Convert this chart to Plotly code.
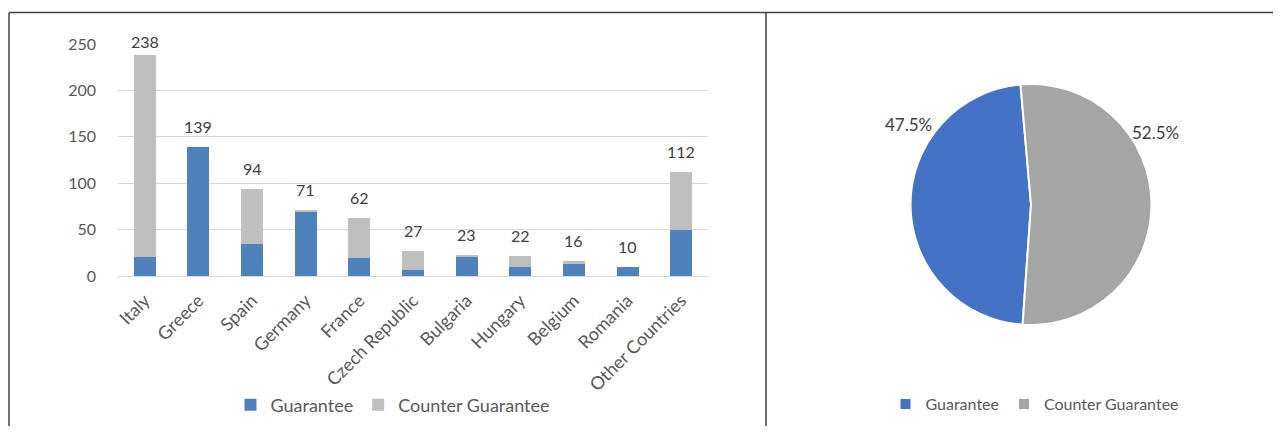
import plotly.graph_objects as go

countries = ["Italy", "Greece", "Spain", "Germany", "France", "Czech Republic",
             "Bulgaria", "Hungary", "Belgium", "Romania", "Other Countries"]
guarantee = [20, 139, 35, 69, 19, 7, 21, 10, 13, 10, 50]
counter_guarantee = [218, 0, 59, 2, 43, 20, 2, 12, 3, 0, 62]
totals = [g + c for g, c in zip(guarantee, counter_guarantee)]

pie_labels = ["Guarantee", "Counter Guarantee"]
pie_values = [47.5, 52.5]

# page has an 8px body margin; figure sized to avoid scrollbars
OFF = 8
W, H = 1265, 418
FONT = "Lato"
TXT = "#595959"


def px(x):
    return (x - OFF) / W


def py(y):
    return 1 - (y - OFF) / H


fig = go.Figure()
fig.add_trace(go.Bar(x=countries, y=guarantee, name="Guarantee",
                     marker=dict(color="#4F81BD", line=dict(width=0)),
                     legend="legend"))
fig.add_trace(go.Bar(x=countries, y=counter_guarantee, name="Counter Guarantee",
                     marker=dict(color="#BFBFBF", line=dict(width=0)),
                     legend="legend"))

fig.add_trace(go.Pie(labels=pie_labels, values=pie_values, sort=False,
                     direction="clockwise", rotation=184,
                     marker=dict(colors=["#4472C4", "#A5A5A5"],
                                 line=dict(color="white", width=2)),
                     textinfo="none", legend="legend2",
                     domain=dict(x=[px(1031 - 120.5), px(1031 + 120.5)],
                                 y=[py(325), py(84)])))

annotations = []
# total labels above the stacked bars
for c, t in zip(countries, totals):
    annotations.append(dict(x=c, y=t, xref="x", yref="y", text=str(t), showarrow=False,
                            xanchor="center", yanchor="bottom",
                            yshift=(2 if t > 200 else 9),
                            font=dict(size=16, color="#404040", family=FONT)))

ann_pos = [(908, 125), (1155, 132)]
for v, (ax, ay) in zip(pie_values, ann_pos):
    annotations.append(dict(x=px(ax), y=py(ay), xref="paper", yref="paper",
                            text=f"{v:.1f}%", showarrow=False,
                            font=dict(size=17, color="#404040", family=FONT),
                            xanchor="center", yanchor="middle"))

line_col = "#404040"
shapes = [
    dict(type="line", xref="paper", yref="paper", x0=px(9), x1=1, y0=py(12.5), y1=py(12.5),
         line=dict(color=line_col, width=1.5)),
    dict(type="line", xref="paper", yref="paper", x0=px(9), x1=px(9), y0=0, y1=py(12.5),
         line=dict(color=line_col, width=1.5)),
    dict(type="line", xref="paper", yref="paper", x0=px(766), x1=px(766), y0=0, y1=py(12.5),
         line=dict(color=line_col, width=1.5)),
]

fig.update_layout(
    width=W, height=H,
    margin=dict(l=0, r=0, t=0, b=0, autoexpand=False),
    paper_bgcolor="white", plot_bgcolor="white",
    barmode="stack", bargap=0.59,
    font=dict(family=FONT, size=16, color=TXT),
    xaxis=dict(domain=[px(118), px(708)], tickangle=-45, showgrid=False,
               showline=True, linecolor="#D9D9D9", linewidth=1, automargin=False,
               ticklabelstandoff=6,
               tickfont=dict(size=18, color=TXT, family=FONT), ticks=""),
    yaxis=dict(domain=[py(276), py(44)], range=[0, 250], dtick=50, automargin=False,
               showgrid=True, gridcolor="#D9D9D9", gridwidth=1, zeroline=False,
               showline=False, ticks="", ticklen=0, ticklabelstandoff=21,
               tickfont=dict(size=16, color=TXT, family=FONT)),
    legend=dict(orientation="h", x=px(393), y=py(405), xanchor="center", yanchor="middle",
                font=dict(size=18, color=TXT, family=FONT), bgcolor="rgba(0,0,0,0)",
                traceorder="normal", itemwidth=30),
    legend2=dict(orientation="h", x=px(1035), y=py(404), xanchor="center", yanchor="middle",
                 font=dict(size=16, color=TXT, family=FONT), bgcolor="rgba(0,0,0,0)",
                 traceorder="normal", itemwidth=30),
    annotations=annotations,
    shapes=shapes,
    showlegend=True,
)

fig.write_html("out.html")
